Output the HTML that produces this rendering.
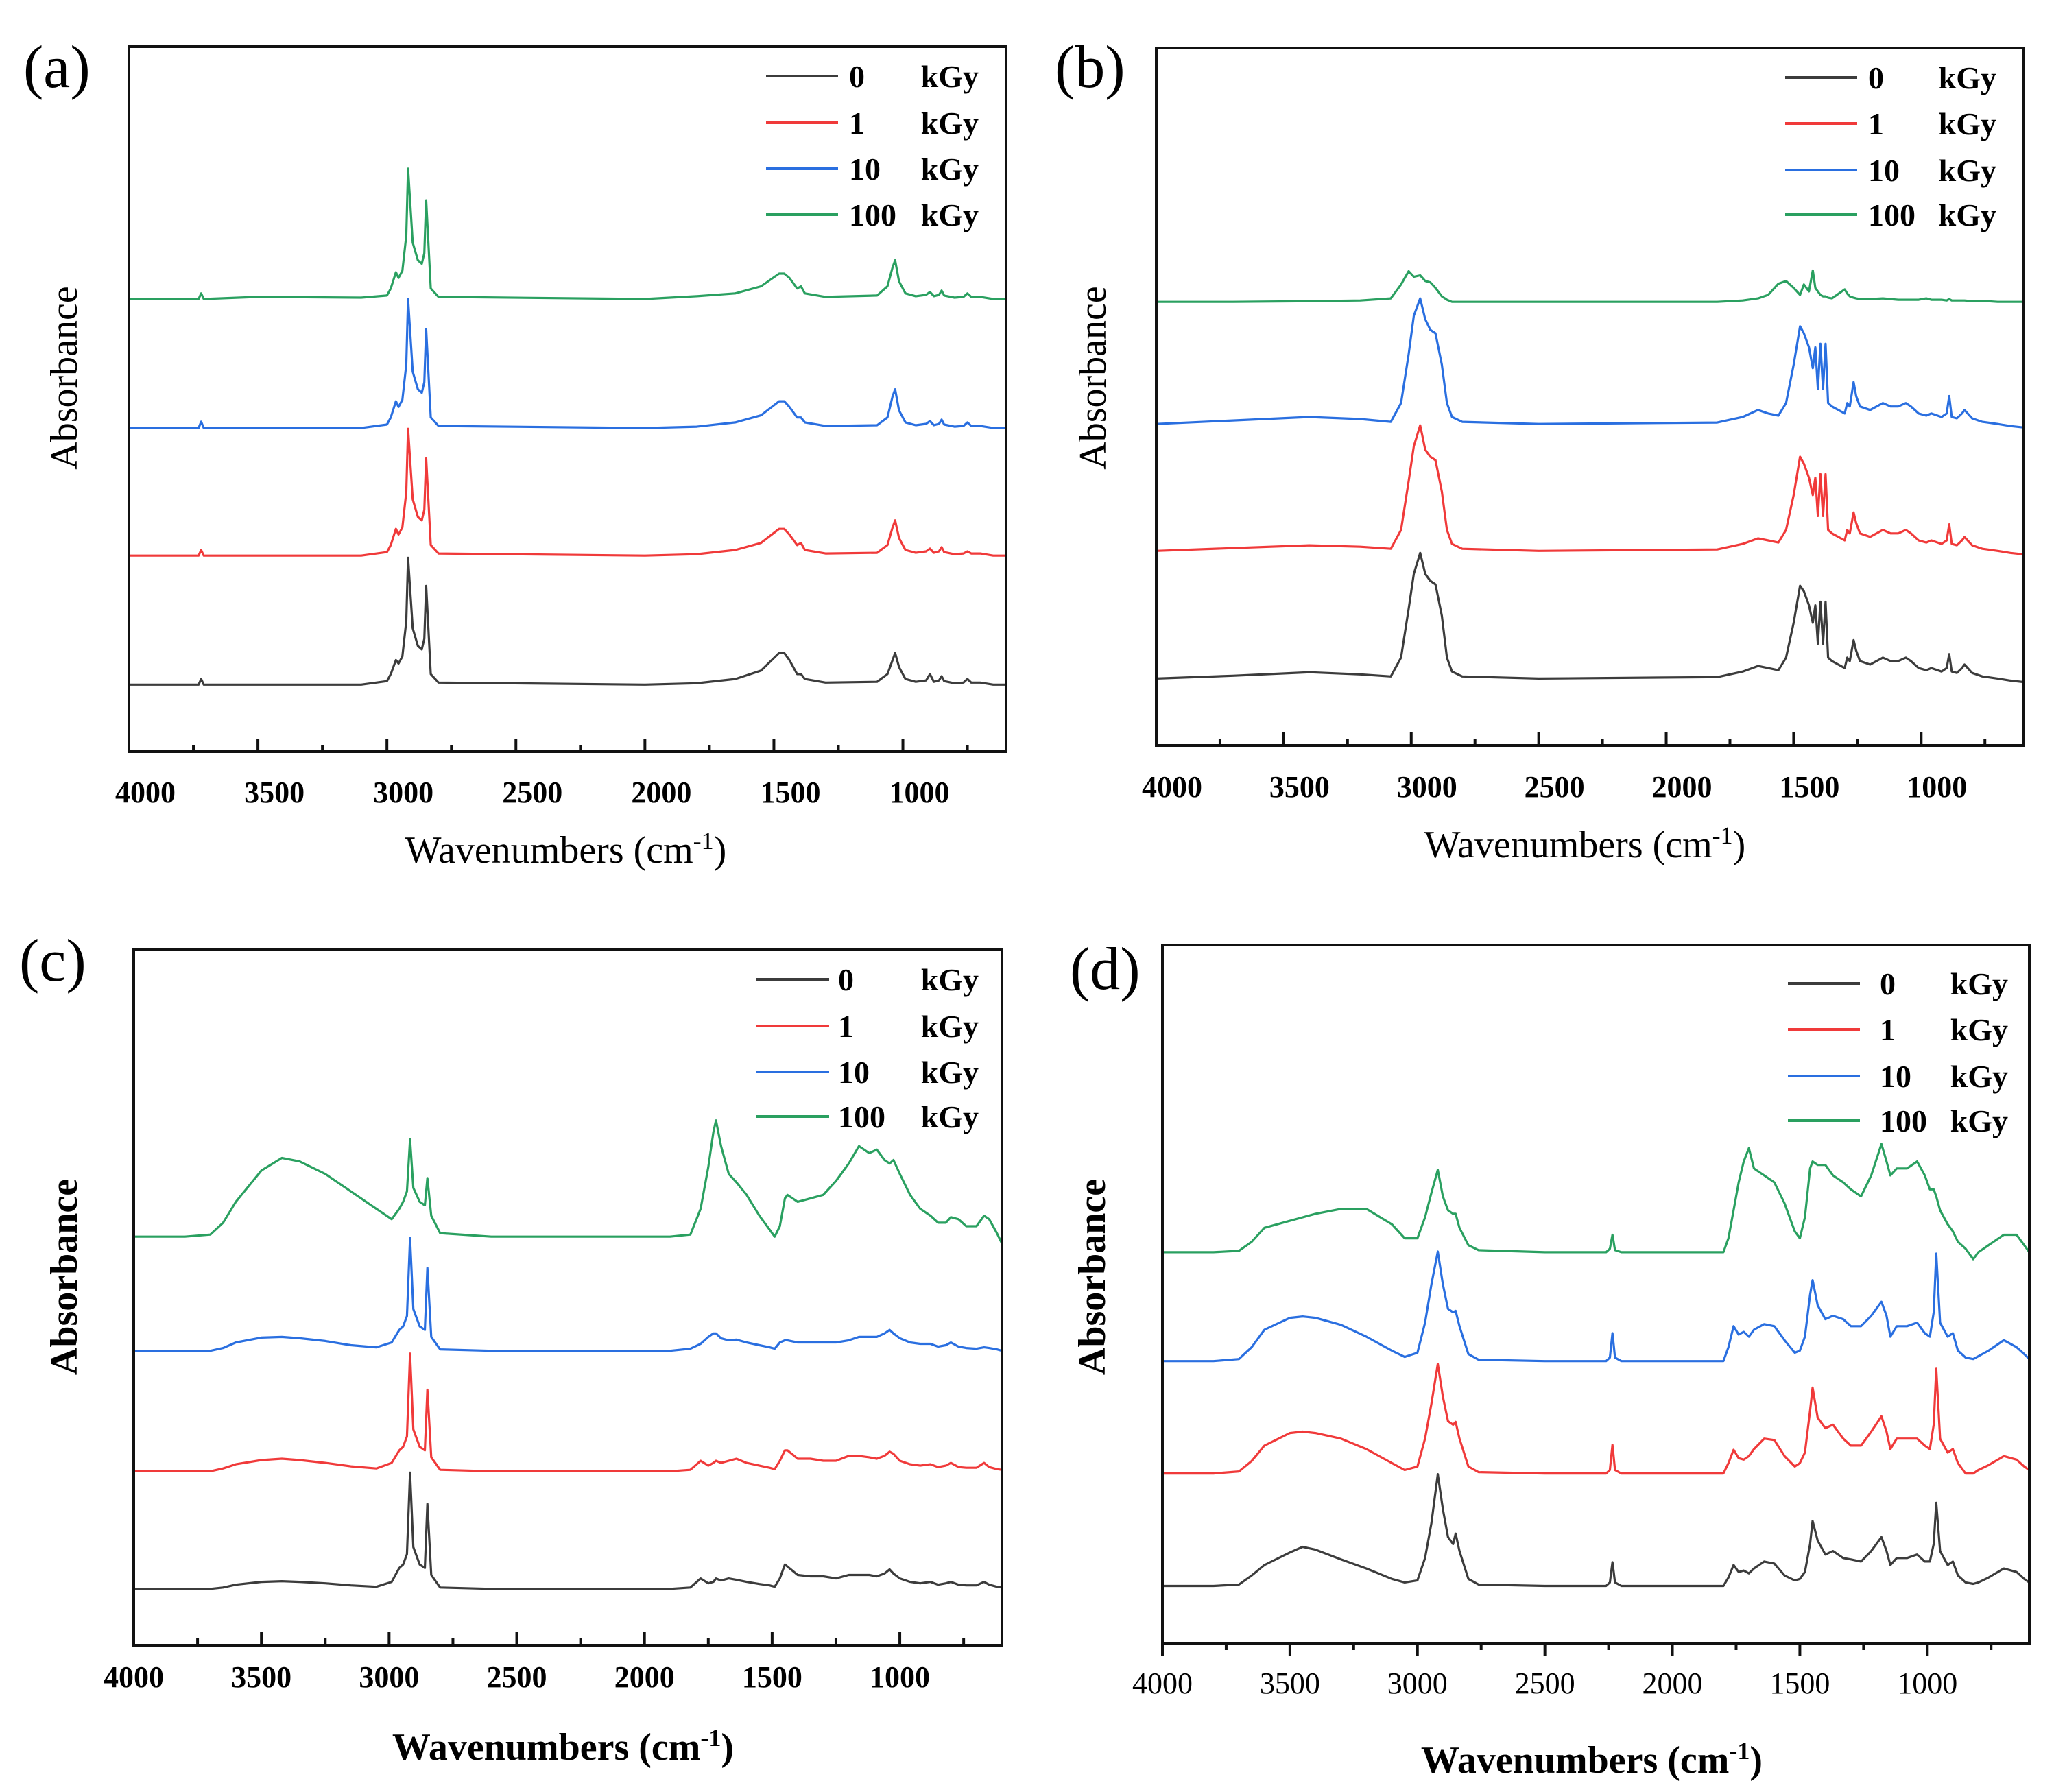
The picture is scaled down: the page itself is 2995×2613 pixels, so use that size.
<!DOCTYPE html>
<html><head><meta charset="utf-8">
<style>
html,body{margin:0;padding:0;background:#fff;}
svg{display:block;}
svg text{font-family:"Liberation Serif","DejaVu Serif",serif;fill:#000;}
</style></head>
<body>
<svg id="fig" width="2995" height="2613" viewBox="0 0 2995 2613" xmlns="http://www.w3.org/2000/svg" font-family="'Liberation Serif', 'DejaVu Serif', serif"></svg>
<script>
// ---------- DATA ----------
const seriesNames = ["0", "1", "10", "100"];
const seriesColors = ["#3c3c3c", "#f03a3a", "#2a6fe0", "#2aa060"];
const xTicksMajor = [4000, 3500, 3000, 2500, 2000, 1500, 1000];
const xTicksMinor = [3750, 3250, 2750, 2250, 1750, 1250, 750];

// Panel (a)
const aWn = [4000,3730,3720,3710,3500,3100,3000,2985,2965,2955,2940,2925,2918,2900,2880,2865,2855,2848,2830,2800,2000,1800,1650,1550,1480,1460,1440,1410,1395,1380,1300,1100,1060,1040,1030,1015,990,950,910,895,880,860,850,840,800,765,750,735,700,650,600];
const aBase = [9.5, 27.8, 45.9, 64.2];
const aBlack = [0,0,0.8,0,0, 0,0.5,1.5,3.5,3, 4,9,18,8,5.5, 5,6.5,14,1.5,0.3, 0,0.2,0.8,2,4.5, 4.5,3.5,1.5,1.5,0.8, 0.3,0.4,1.5,3.5,4.5, 2.5,0.8,0.4,0.6,1.5, 0.4,0.6,1.2,0.5,0.2, 0.3,0.8,0.3,0.3,0,0];
const aRed   = [0,0,0.8,0,0, 0,0.5,1.5,3.8,3, 4,9,18,8,5.5, 5,6.5,13.8,1.5,0.3, 0,0.2,0.8,1.8,3.8, 3.8,3,1.5,1.8,0.8, 0.3,0.4,1.5,4,5, 2.5,0.8,0.4,0.6,1,0.4,0.6,1.2,0.5,0.2, 0.3,0.6,0.3,0.3,0,0];
const aBlue  = [0,0,0.9,0,0, 0,0.5,1.5,3.8,3, 4,9,18.3,8,5.5, 5,6.5,14,1.5,0.3, 0,0.2,0.8,1.8,3.8, 3.8,3,1.5,1.5,0.8, 0.3,0.4,1.5,4.5,5.5, 2.5,0.8,0.4,0.6,1, 0.4,0.6,1.2,0.5,0.2, 0.3,0.8,0.3,0.3,0,0];
const aGreen = [0,0,0.8,0,0.3, 0.2,0.5,1.5,3.8,3, 4,9,18.5,8,5.5, 5,6.5,14,1.5,0.3, 0,0.4,0.8,1.8,3.6, 3.6,3,1.5,1.8,0.8, 0.3,0.5,1.8,4.5,5.5, 2.5,0.8,0.4,0.6,1, 0.4,0.6,1.2,0.5,0.2, 0.3,0.8,0.3,0.3,0,0];

// Panel (b)
const bWn = [4000,3700,3400,3200,3080,3040,3010,2990,2965,2945,2925,2905,2880,2860,2840,2800,2500,1800,1700,1640,1600,1560,1530,1500,1475,1460,1440,1425,1415,1405,1395,1385,1375,1365,1350,1300,1290,1280,1265,1255,1240,1200,1150,1120,1090,1060,1040,1010,980,960,920,900,890,880,860,840,830,800,760,740,700,650,600];
const bBase = [9.6, 27.9, 46.1, 63.6];
const bBlack = [0,0.4,0.9,0.6,0.3, 3,10,15,18,15, 14,13.5,9,3,1, 0.3,0,0.2,1,1.8, 1.5,1.2,3,8,13.3, 12.5,10.5,8,10.5,5, 11,5,11,3,2.5, 1.5,3,2.5,5.5,4, 2.5,2,3,2.5,2.5, 3,2.5,1.5,1.2,1.5, 1,1.5,3.5,1,0.8, 1.5,2,0.8,0.3,0.2, 0,-0.3,-0.5];
const bRed   = [0,0.4,0.8,0.6,0.3, 3,10,15,18,14.5, 13.5,13,8.5,3,1, 0.3,0,0.2,1,1.8, 1.5,1.2,3,8,13.5, 12.5,10.5,8,10.5,5, 11,5,11,3,2.5, 1.5,3,2.5,5.5,4, 2.5,2,3,2.5,2.5, 3,2.5,1.5,1.2,1.5, 1,1.5,3.8,1,0.8, 1.5,2,0.8,0.3,0.2, 0,-0.3,-0.5];
const bBlue  = [0,0.5,1,0.7,0.3, 3,10,15.5,18,15, 13.5,13,8.5,3,1, 0.3,0,0.2,1,2, 1.5,1.2,3,8.5,14, 13,11,8,11,5, 11.5,5,11.5,3,2.5, 1.5,3,2.5,6,4, 2.5,2,3,2.5,2.5, 3,2.5,1.5,1.2,1.5, 1,1.5,4,1,0.8, 1.5,2,0.8,0.3,0.2, 0,-0.3,-0.5];
const bGreen = [0,0,0.1,0.2,0.5, 2.5,4.4,3.6,3.8,3, 2.8,2,0.8,0.3,0, 0,0,0,0.2,0.5, 1,2.6,3,2,1, 2.5,1.5,4.5,2,1.5, 1,0.8,0.8,0.6,0.5, 1.8,1.2,0.8,0.6,0.5, 0.4,0.4,0.5,0.4,0.3, 0.3,0.3,0.3,0.5,0.3, 0.3,0.2,0.4,0.2,0.2, 0.2,0.2,0.1,0.1,0.1, 0,0,0];

// Panel (c)
const cWn = [4000,3800,3700,3650,3600,3500,3420,3350,3250,3150,3050,2990,2960,2945,2930,2918,2905,2880,2860,2850,2835,2800,2600,1900,1820,1780,1750,1730,1720,1700,1670,1640,1600,1550,1510,1490,1470,1450,1440,1400,1350,1300,1250,1200,1160,1120,1090,1060,1040,1025,1000,960,920,880,850,820,800,770,740,700,670,650,620,600];
const cBase = [8.1, 25.0, 42.3, 58.7];
const cBlack = [0,0,0,0.2,0.6, 1,1.1,1,0.8,0.5, 0.3,1,3,3.5,5, 16.7,6,3.5,3,12.2, 2,0.2,0,0,0.2, 1.5,0.8,1,1.5,1.2, 1.5,1.3,1,0.7,0.5, 0.3,1.5,3.5,3.2,2, 1.8,1.8,1.5,2,2, 2,1.8,2.2,2.8,2.2, 1.5,1,0.8,1,0.6, 0.8,1,0.6,0.5,0.5, 1,0.6,0.3,0.2];
const cRed   = [0,0,0,0.4,1, 1.6,1.8,1.6,1.2,0.7, 0.4,1.2,3,3.5,5, 16.9,6,3.5,3,11.7, 2,0.2,0,0,0.2, 1.5,0.8,1.2,1.5,1.2, 1.5,1.8,1.2,0.8,0.5, 0.3,1.5,3,3,1.8, 1.8,1.5,1.5,2.2,2.2, 2,1.8,2.2,2.8,2.5, 1.5,1,0.8,1,0.6, 0.8,1.2,0.6,0.5,0.5, 1.2,0.6,0.3,0.2];
const cBlue  = [0,0,0,0.4,1.2, 1.9,2,1.8,1.4,0.8, 0.5,1.2,3,3.5,5, 16.2,6,3.5,3,11.9, 2,0.2,0,0,0.3, 1,2,2.5,2.5,1.8, 1.5,1.6,1.2,0.8,0.5, 0.3,1.2,1.5,1.5,1.2, 1.2,1.2,1.2,1.5,2, 2,2,2.5,3,2.5, 1.8,1.2,1,1,0.6, 0.8,1.2,0.6,0.4,0.3, 0.5,0.4,0.2,0];
const cGreen = [0,0,0.3,2,5, 9.5,11.3,10.8,9,6.5, 4,2.5,4,5,6.5, 14,7,5,4.5,8.4, 3,0.5,0,0,0.3, 4,10,15,16.7,13, 9,7.8,6,3,1, 0,1.5,5.5,6,5, 5.5,6,8,10.5,13, 12,12.5,11,10.5,11, 9,6,4,3,2, 2,2.8,2.5,1.5,1.5, 3,2.5,0.5,-1];

// Panel (d)
const dWn = [4000,3800,3700,3650,3600,3500,3450,3400,3300,3200,3100,3050,3000,2970,2945,2920,2900,2880,2860,2850,2835,2800,2760,2500,2260,2245,2235,2225,2200,1800,1780,1760,1740,1720,1700,1680,1640,1600,1560,1520,1500,1480,1460,1450,1430,1400,1370,1330,1300,1260,1220,1180,1160,1145,1120,1080,1040,1010,990,975,965,950,920,900,880,850,820,800,760,700,650,620,600];
const dBase = [8.2, 24.3, 40.4, 56.0];
const dBlack = [0,0,0.2,1.5,3, 4.8,5.6,5.2,3.8,2.5, 1,0.5,0.8,4,9, 16,11,7,6,7.5, 5,1,0.2,0,0, 0.5,3.4,0.5,0,0, 1.2,3,2,2.2,1.8, 2.5,3.5,3.2,1.5,0.8, 1,2,6,9.3,6.5, 4.5,5,4,3.8,3.5, 5,7,5,3,4, 4,4.5,3.5,3.5,6, 11.9,5,3,3.5,1.5, 0.5,0.3,0.5,1.2,2.5, 2,1,0.5];
const dRed   = [0,0,0.3,1.8,4, 5.8,6,5.8,5,3.5, 1.5,0.5,1,5,10, 15.7,11,7.5,7,7.4, 5,1,0.2,0,0, 0.5,4.1,0.5,0,0, 1.5,3.4,2.2,2,2.5, 3.5,5,4.8,2.5,1, 1.5,3,9,12.3,8, 6.5,7,5,4,4, 6,8.2,6,3.5,5, 5,5,4,3.5,7, 15,5,3,3.5,1.5, 0,0,0.5,1.2,2.5, 2,1,0.5];
const dBlue  = [0,0,0.3,2,4.5, 6.2,6.4,6.2,5.2,3.5, 1.5,0.6,1.2,5.5,11, 15.7,11,7.5,7,7.2, 5,1,0.2,0,0, 0.5,4,0.5,0,0, 2,5,3.8,4.2,3.5, 4.5,5.3,5,3,1.2, 1.5,3.5,9.5,11.6,8, 6,6.5,6,5,5, 6.5,8.5,6.5,3.5,5, 5,5.5,4,3.5,7, 15.4,5.5,3.5,4,1.5, 0.5,0.3,0.7,1.5,3, 2,1,0.3];
const dGreen = [0,0,0.2,1.5,3.5, 4.5,5,5.5,6.2,6.2, 4,2,2,5,8.5, 11.8,8,6,5.5,5.5, 3.5,1,0.3,0,0, 0.5,2.5,0.3,0,0, 2,6,10,13,14.9, 12,11,10,7,3, 2,5,12,13,12.5, 12.5,11,10,9,8, 11,15.5,13,11,12, 12,13,11,9,9, 8,6,4,3,1.5, 0.5,-1,0,1,2.5, 2.5,1,0];

// ---------- LAYOUT ----------
const panels = [
 {id:"a", wn:aWn, base:aBase, ser:[aBlack,aRed,aBlue,aGreen], box:[188,68,1467,1096], tickOut:false, bold:false, tickBold:true, tdx:24, tickY:1170, titleX:825, titleY:1258, absX:112, absY:551,
  lab:[34,127], leg:{x1:1117,x2:1222,nx:1238,kx:1427,rows:[111,179,246,313]}},
 {id:"b", wn:bWn, base:bBase, ser:[bBlack,bRed,bBlue,bGreen], box:[1686,70,2950,1087], tickOut:false, bold:false, tickBold:true, tdx:23, tickY:1162, titleX:2311, titleY:1250, absX:1612, absY:551,
  lab:[1538,127], leg:{x1:2603,x2:2708,nx:2724,kx:2911,rows:[113,180,248,313]}},
 {id:"c", wn:cWn, base:cBase, ser:[cBlack,cRed,cBlue,cGreen], box:[195,1384,1461,2399], tickOut:false, bold:true, tickBold:true, tdx:0, tickY:2460, titleX:821, titleY:2566, absX:112, absY:1862,
  lab:[28,1430], leg:{x1:1102,x2:1209,nx:1222,kx:1427,rows:[1428,1496,1563,1628]}},
 {id:"d", wn:dWn, base:dBase, ser:[dBlack,dRed,dBlue,dGreen], box:[1695,1378,2959,2396], tickOut:true, bold:true, tickBold:false, tdx:0, tickY:2469, titleX:2321, titleY:2585, absX:1611, absY:1862,
  lab:[1560,1442], leg:{x1:2607,x2:2712,nx:2741,kx:2928,rows:[1434,1501,1569,1634]}}
];

const NS = "http://www.w3.org/2000/svg";
const FONT = "'Liberation Serif', 'DejaVu Serif', serif";
const svg = document.getElementById("fig");
function mk(tag, attrs, parent){
  const e = document.createElementNS(NS, tag);
  for (const k in attrs) e.setAttribute(k, attrs[k]);
  if (tag === "text") e.setAttribute("font-family", FONT);
  (parent||svg).appendChild(e);
  return e;
}

panels.forEach(p => {
  const [L,T,R,B] = p.box;
  const g = mk("g", {});
  
  
  const xs = w => L + (4000 - w) / (4000 - 600) * (R - L);
  const ys = v => B - v / 100 * (B - T);

  p.ser.forEach((vals, si) => {
    let d = "";
    p.wn.forEach((w, i) => { d += (i ? "L" : "M") + xs(w).toFixed(1) + "," + ys(p.base[si] + vals[i]).toFixed(1); });
    const path = mk("path", {d:d, fill:"none", stroke:seriesColors[si], "stroke-width":3.2, "stroke-linejoin":"round"}, g);
    
    
  });

  const fr = mk("rect", {x:L, y:T, width:R-L, height:B-T, fill:"none", stroke:"#111", "stroke-width":4}, g);
  
  

  const dir = p.tickOut ? 1 : -1;
  xTicksMajor.forEach(t => {
    const x = xs(t);
    const tk = mk("line", {x1:x, x2:x, y1:B, y2:B + dir*19, stroke:"#111", "stroke-width":4}, g);
    
    
    const tl = mk("text", {x:x + p.tdx, y:p.tickY, "text-anchor":"middle", "font-size":44, "font-weight":p.tickBold?"bold":"normal"}, g);
    tl.textContent = t;
    
    
  });
  xTicksMinor.forEach(t => {
    const x = xs(t);
    const tk = mk("line", {x1:x, x2:x, y1:B, y2:B + dir*10, stroke:"#111", "stroke-width":4}, g);
    
    
  });

  const xt = mk("text", {x:p.titleX, y:p.titleY, "text-anchor":"middle", "font-size":56, "font-weight":p.bold?"bold":"normal"}, g);
  
  
  xt.appendChild(document.createTextNode("Wavenumbers (cm"));
  const sup = document.createElementNS(NS, "tspan");
  sup.setAttribute("dy", "-20"); sup.setAttribute("font-size", "36");
  sup.textContent = "-1";
  xt.appendChild(sup);
  const cl = document.createElementNS(NS, "tspan");
  cl.setAttribute("dy", "20");
  cl.textContent = ")";
  xt.appendChild(cl);

  const yt = mk("text", {x:p.absX, y:p.absY, "text-anchor":"middle", "font-size":56, "font-weight":p.bold?"bold":"normal", transform:"rotate(-90 " + p.absX + " " + p.absY + ")"}, g);
  yt.textContent = "Absorbance";
  
  

  const pl = mk("text", {x:p.lab[0], y:p.lab[1], "font-size":88}, g);
  pl.textContent = "(" + p.id + ")";
  
  

  const lg = mk("g", {}, g);
  
  
  seriesNames.forEach((n, si) => {
    const y = p.leg.rows[si];
    const ln = mk("line", {x1:p.leg.x1, x2:p.leg.x2, y1:y, y2:y, stroke:seriesColors[si], "stroke-width":4}, lg);
    
    
    const nt = mk("text", {x:p.leg.nx, y:y+16, "font-size":46, "font-weight":"bold"}, lg);
    nt.textContent = n;
    
    
    const kt = mk("text", {x:p.leg.kx, y:y+16, "font-size":46, "font-weight":"bold", "text-anchor":"end"}, lg);
    kt.textContent = "kGy";
    
    
  });
});
</script>
</body></html>
